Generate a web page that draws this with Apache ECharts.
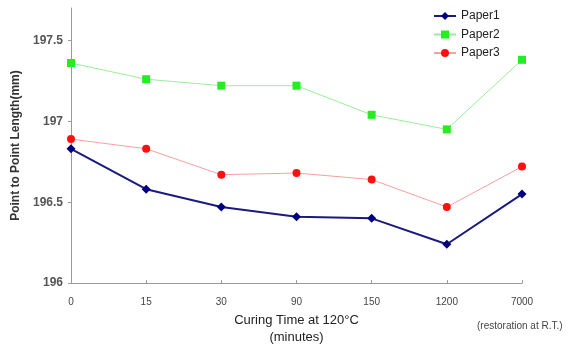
<!DOCTYPE html>
<html><head><meta charset="utf-8">
<script src="https://cdn.jsdelivr.net/npm/echarts@6/dist/echarts.min.js"></script>
<style>html,body{margin:0;padding:0;background:#fff}#c{width:569px;height:351px}</style>
</head><body><div id="c"></div>
<script>
const categories = ['0','15','30','90','150','1200','7000'];
const paper1 = [196.83,196.58,196.47,196.41,196.40,196.24,196.55];
const paper2 = [197.36,197.26,197.22,197.22,197.04,196.95,197.38];
const paper3 = [196.89,196.83,196.67,196.68,196.64,196.47,196.72];
const yTicks = [196,196.5,197,197.5];

const chart = echarts.init(document.getElementById('c'));
chart.setOption({
  animation:false,
  grid:{left:71,right:47,top:8,bottom:63},
  legend:{
    orient:'vertical', left:428, top:5, itemGap:6.5, itemWidth:22, itemHeight:10,
    textStyle:{fontFamily:'Arial, Liberation Sans',fontSize:12,color:'#222'},
    data:['Paper1','Paper2','Paper3']
  },
  xAxis:{
    type:'category', data:categories, boundaryGap:false,
    name:'Curing Time at 120°C\n(minutes)', nameLocation:'middle', nameGap:27,
    nameTextStyle:{fontFamily:'Arial, Liberation Sans',fontSize:13,color:'#222',lineHeight:17},
    axisLine:{lineStyle:{color:'#999'}},
    axisTick:{inside:true,length:3,lineStyle:{color:'#999'}},
    axisLabel:{fontSize:10,color:'#444',margin:14,fontFamily:'Arial, Liberation Sans'}
  },
  yAxis:{
    type:'value', min:196, max:197.7, interval:0.5,
    name:'Point to Point Length(mm)', nameLocation:'middle', nameGap:45,
    nameTextStyle:{fontFamily:'Arial, Liberation Sans',fontSize:12,color:'#333',fontWeight:'bold'},
    axisLine:{show:true,lineStyle:{color:'#999'}},
    axisTick:{show:true,length:3,lineStyle:{color:'#999'}},
    splitLine:{show:false},
    axisLabel:{fontSize:12,fontWeight:'bold',color:'#555',margin:8,fontFamily:'Arial, Liberation Sans',
      showMaxLabel:false,
      formatter:v=>yTicks.includes(v)?String(v):''}
  },
  graphic:[{type:'text',left:477,top:321,style:{text:'(restoration at R.T.)',fontSize:10,fill:'#444',fontFamily:'Arial, Liberation Sans'}}],
  series:[
    {name:'Paper1',type:'line',data:paper1,symbol:'diamond',symbolSize:9,
      lineStyle:{color:'#1a1a80',width:2},itemStyle:{color:'#000080'}},
    {name:'Paper2',type:'line',data:paper2,symbol:'rect',symbolSize:8,
      lineStyle:{color:'#99ee99',width:1},itemStyle:{color:'#22ee22'}},
    {name:'Paper3',type:'line',data:paper3,symbol:'circle',symbolSize:8,
      lineStyle:{color:'#f4a0a0',width:1},itemStyle:{color:'#ff1010'}}
  ]
});
</script></body></html>
